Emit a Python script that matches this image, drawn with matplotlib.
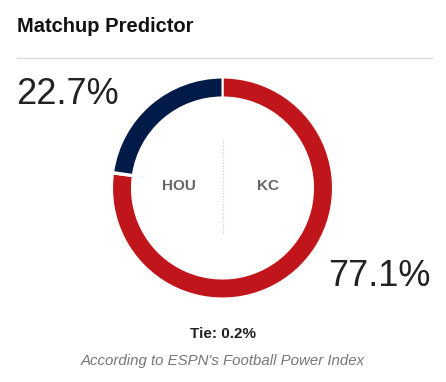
import matplotlib.pyplot as plt

plt.rcParams['font.family'] = ['Liberation Sans', 'DejaVu Sans']

teams = ["KC", "Tie", "HOU"]
chances = [77.1, 0.2, 22.7]
colors = ["#c0161b", "#ffffff", "#011a47"]
hou_label = "22.7%"
kc_label = "77.1%"
tie_label = "Tie: 0.2%"

W, H = 446, 382
fig = plt.figure(figsize=(W / 100, H / 100), dpi=100)
ax = fig.add_axes([0, 0, 1, 1])

def y(px):
    return H - px

# donut
cx, cy = 222.5, y(188)
ax.pie(chances, colors=colors, startangle=90, counterclock=False,
       center=(cx, cy), radius=110.5, frame=True,
       wedgeprops=dict(width=20, edgecolor='white', linewidth=1.5))
ax.set_xlim(0, W)
ax.set_ylim(0, H)
ax.axis('off')

# header
ax.text(17, y(26), "Matchup Predictor", fontsize=14.5, fontweight='bold',
        color='#111111', ha='left', va='center')
ax.plot([17, 432], [y(58), y(58)], color='#dddddd', lw=1)

ax.plot([cx, cx], [y(140), y(233)], color='#cccccc', lw=0.8, ls=(0, (1, 1.5)))
ax.text(179, y(186), "HOU", fontsize=11, fontweight='bold', color='#666666',
        ha='center', va='center')
ax.text(268, y(186), "KC", fontsize=11, fontweight='bold', color='#666666',
        ha='center', va='center')

ax.text(16, y(95), hou_label, fontsize=26, color='#222222', ha='left', va='center')
ax.text(430, y(276), kc_label, fontsize=26, color='#222222', ha='right', va='center')

ax.text(cx, y(334), tie_label, fontsize=11, fontweight='bold', color='#222222',
        ha='center', va='center')
ax.text(cx, y(361), "According to ESPN's Football Power Index", fontsize=10.8,
        style='italic', color='#777777', ha='center', va='center')

fig.savefig("out.png", dpi=100)
